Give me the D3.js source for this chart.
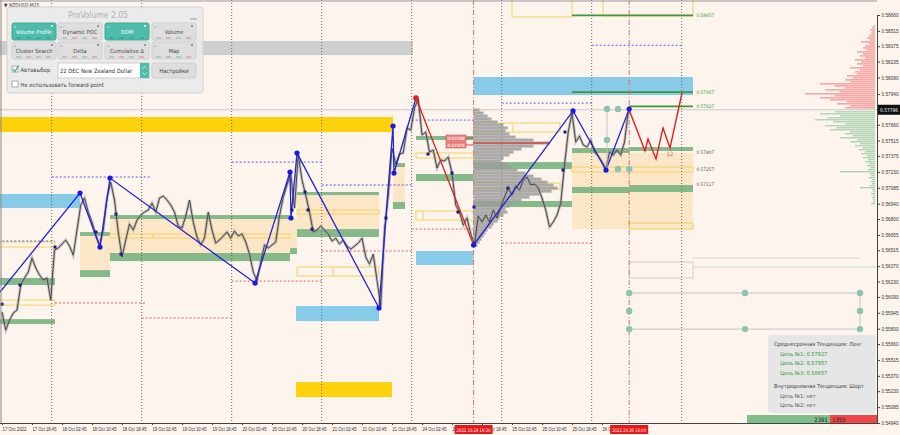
<!DOCTYPE html>
<html><head><meta charset="utf-8">
<script src="https://cdn.jsdelivr.net/npm/d3@7"></script>
<style>body{margin:0;background:#fdf4ee;}svg{display:block;font-family:"DejaVu Sans Condensed","DejaVu Sans",sans-serif;font-stretch:condensed;}</style>
</head><body><svg id="c" width="900" height="435"></svg>
<script>
// ---------------- DATA ----------------
const priceTicks=[0.58660,0.58515,0.58375,0.58235,0.58090,0.57940,0.57660,0.57515,0.57375,0.57230,0.57085,0.56940,0.56800,0.56655,0.56515,0.56370,0.56230,0.56090,0.55945,0.55800,0.55660,0.55515,0.55370,0.55230,0.55085,0.54940];
const currentPrice=0.57796;
const timeLabels=["17 Oct 2022","17 Oct 18:45","18 Oct 02:45","18 Oct 10:45","18 Oct 18:45","19 Oct 02:45","19 Oct 10:45","19 Oct 18:45","20 Oct 02:45","20 Oct 10:45","20 Oct 18:45","21 Oct 02:45","21 Oct 10:45","21 Oct 18:45","24 Oct 02:45","24 Oct 10:45","24 Oct 18:45","25 Oct 02:45","25 Oct 10:45","25 Oct 18:45","26 Oct 02:45"];
const timeTickHours=[0,8,16,24,32,40,48,56,64,72,80,88,96,104,112,120,128,136,144,152,160];
const daySeparators=[13.25,37.25,61.25,85.25,109.25,133.25,157.25,181.25];
const markerLines=[{h:125.75,label:"2022.10.24 16:30"},{h:167.25,label:"2022.10.26 10:00"}];
// hourly closes, hour 0 = 17 Oct 10:45
const closes=[0.55951,0.55787,0.55878,0.55942,0.55970,0.56198,0.56262,0.56316,0.56444,0.56353,
0.56289,0.56243,0.56262,0.56061,0.56517,0.56535,0.56572,0.56608,0.56553,0.56471,
0.56699,0.56927,0.56991,0.56863,0.56772,0.56654,0.56563,0.56699,0.56991,0.57137,
0.56973,0.56681,0.56453,0.56608,0.56754,0.56699,0.56790,0.56836,0.56863,0.56882,
0.56945,0.56863,0.56991,0.57009,0.56973,0.56927,0.56863,0.56736,0.56718,0.56827,
0.56973,0.56772,0.56636,0.56563,0.56626,0.56863,0.56699,0.56581,0.56608,0.56645,
0.56681,0.56626,0.56690,0.56645,0.56663,0.56590,0.56480,0.56316,0.56234,0.56407,
0.56563,0.56535,0.56563,0.56590,0.56827,0.57000,0.57110,0.57210,0.56900,0.57383,
0.57155,0.57018,0.56863,0.56681,0.56699,0.56736,0.56699,0.56663,0.56599,0.56626,
0.56572,0.56608,0.56553,0.56526,0.56553,0.56581,0.56626,0.56453,0.56389,0.56480,
0.56243,0.56006,0.56699,0.57018,0.57447,0.57301,0.57392,0.57402,0.57630,0.57611,
0.57812,0.57894,0.57566,0.57593,0.57411,0.57429,0.57265,0.57338,0.57328,0.57365,
0.57219,0.56927,0.56863,0.56745,0.56809,0.56663,0.56572,0.56827,0.56772,0.56836,
0.56772,0.56882,0.56809,0.56909,0.57000,0.57082,0.57018,0.57101,0.57064,0.57155,
0.57183,0.57110,0.57119,0.57082,0.56991,0.56882,0.56727,0.56772,0.56836,0.56945,
0.57292,0.57593,0.57766,0.57502,0.57557,0.57475,0.57456,0.57520,0.57411,0.57374,
0.57319,0.57256,0.57411,0.57383,0.57429,0.57383,0.57502,0.57775];
const zigzagBlue1=[[-0.53,0.56134],[20.8,0.57037],[26.13,0.56544],[28.8,0.57173],[67.47,0.56216],[76.8,0.57228],[77.07,0.56809],[78.67,0.57401],[100.53,0.55988],[104.27,0.57648],[104.53,0.57219],[110.4,0.57903]];
const zigzagRed=[[110.4,0.57903],[125.75,0.56563]];
const zigzagBlue2=[[125.75,0.56563],[152.27,0.57785],[161.07,0.57246],[167.25,0.57803]];
const forecast=[[167.25,0.57794],[171.47,0.57420],[172.27,0.57529],[174.4,0.57347],[176.27,0.57630],[178.13,0.57447],[181.33,0.57949]];
const pivotMarks=[[0,0.56024],[4.8,0.56198],[14.13,0.56544],[25.07,0.56681],[30.4,0.56845],[31.73,0.56480],[77.33,0.56882],[80.8,0.57046],[81.6,0.56882],[82.67,0.56708],[102.4,0.56809],[113.6,0.57392],[120,0.57219],[121.6,0.56863],[125.87,0.56909],[134.93,0.57082],[149.6,0.57246],[150.13,0.57593]];
// zones: [hourStart, hourEnd, priceHigh, priceLow]
const grayZones=[[-1,109.6,0.58423,0.58295]];
const goldZones=[[-1,104.25,0.57730,0.57593],[78.4,104,0.55313,0.55176]];
const blueZones=[[-1,20.8,0.57028,0.56900],[78.4,100.53,0.56006,0.55869],[110.4,125.75,0.56508,0.56380],[125.75,184.27,0.58095,0.57930]];
const beigeZones=[[20.8,28.8,0.56645,0.56334],[28.8,76.8,0.56800,0.56490],[76.8,78.67,0.56809,0.56535],[78.67,100.53,0.57018,0.56708],[104.27,107.47,0.57274,0.56955],[152,184.27,0.57402,0.56708]];
const greenZones=[[-1,14.13,0.56262,0.56198],[-1,14.13,0.55887,0.55842],[20.8,28.8,0.56681,0.56645],[20.8,28.8,0.56334,0.56271],[28.8,76.8,0.56836,0.56800],[28.8,76.8,0.56490,0.56416],[76.8,78.67,0.56535,0.56480],[78.67,100.53,0.57046,0.57018],[78.67,100.53,0.56708,0.56636],[104.27,107.47,0.57310,0.57274],[104.27,107.47,0.56955,0.56891],[110.4,125.75,0.57557,0.57520],[110.4,125.75,0.57210,0.57146],[125.75,152,0.57319,0.57256],[125.75,152,0.56964,0.56909],[152,167.25,0.57447,0.57402],[167.25,184.27,0.57456,0.57420],[152,167.25,0.57092,0.57037],[167.25,184.27,0.57110,0.57046]];
const yellowBoxes=[[-1,14.13,0.56590,0.56544],[-1,14.13,0.56061,0.56015],[28.8,76.8,0.56663,0.56626],[78.67,100.53,0.56882,0.56845],[78.67,100.53,0.56362,0.56280],[110.4,125.75,0.57402,0.57356],[110.4,125.75,0.56873,0.56790],[125.75,148.8,0.57675,0.57593],[125.75,148.8,0.57128,0.57073],[152,184.27,0.57274,0.57228],[167.25,184.27,0.56763,0.56708],[136,152,0.58842,0.58642],[160.27,184.27,0.58842,0.58651]];
const yellowDividers=[[40.27,0.56663,0.56626],[88.27,0.56882,0.56845],[88.27,0.56362,0.56280],[112.27,0.56873,0.56790],[136.27,0.57675,0.57593]];
const grayBoxes=[[167.25,184.27,0.56407,0.56262]];
const levelLines=[[152,184.27,0.58657],[152,184.27,0.57957],[167.25,184.27,0.57827]];
const levelLabels=[0.58657,0.57957,0.57827,0.57407,0.57257,0.57117];
const blueDotted=[[-1,14.13,0.56599],[13.25,39.47,0.57183],[61.25,85.25,0.57319],[85.25,109.25,0.57110],[109.25,125.75,0.57702],[133.25,157.25,0.57857],[157.25,181.25,0.58384]];
const redDotted=[[14.13,38.13,0.56034],[37.25,61.25,0.55897],[61.25,85.25,0.56234],[85.25,109.25,0.56508],[109.25,125.75,0.56708],[133.25,157.25,0.56581]];
const faintLines=[[184.27,228.8,0.56444],[184.27,234,0.56362]];
const targetCircles=[[161.33,0.57803],[164.27,0.57803],[161.33,0.57520],[164.27,0.57256],[167.25,0.57256],[167.25,0.56125],[198.13,0.56125],[228.8,0.56125],[167.25,0.55961],[228.8,0.55961],[167.25,0.55796],[198.13,0.55796],[228.8,0.55796]];
const circleLinks=[[161.33,0.57803,161.33,0.57256],[167.25,0.56125,228.8,0.56125],[167.25,0.55796,228.8,0.55796],[228.8,0.56125,228.8,0.55796]];
// volume profile from 24 Oct 16:30, top level and bin step
const vpTop=0.57794, vpStep=0.000274;
const vpVolumes=[60,100,140,180,240,300,340,320,360,420,600,760,600,480,400,360,300,280,340,380,440,520,600,680,740,800,840,780,660,560,480,400,360,320,340,300,260,240,200,180,140,120,100,80,60,40];
const pocPrice=0.57493, pocEnd=146.13;
const pocTags=[["0.57538",0.57538],["0.57475",0.57475]];
// DOM
const domStep=0.000182;
const domAsk=[300,250,380,280,450,550,400,700,350,500,300,400,550,250,300,220,280,180,200,150,250,120,180,140,200,100,150,120,180,80,120,100,60,140,50,80,60,40,30,50,30,20];
const domBid=[400,550,350,480,600,420,300,500,380,450,250,300,220,350,180,250,150,200,120,160,100,140,80,120,70,100,60,80,50,70,350,50,40,60,30,40,30,50,150,30,20,40,20,30,20,20,40];
const buySell=[2391,1355];
const infoLines=[["Среднесрочная Тенденция: Лонг","#444",0],["Цель №1: 0.57827","#2e9a3a",6],["Цель №2: 0.57957","#2e9a3a",6],["Цель №3: 0.58657","#2e9a3a",6],["Внутридневная Тенденция: Шорт","#444",0],["Цель №1: нет","#555",6],["Цель №2: нет","#555",6]];
const row1=["Volume Profile","Dynamic POC","DOM","Volume"], row1Active=[true,false,true,false];
const row2=["Cluster Search","Delta","Cumulative Δ","Map"];

// ---------------- DRAW ----------------
const svg=d3.select("#c");
const plotR=877, plotB=423;
const x=d3.scaleLinear().domain([0,234]).range([2,879.5]);
const y=d3.scaleLinear().domain([0.54940,0.58660]).range([423,15]);
svg.append("rect").attr("width",900).attr("height",435).attr("fill","#fdf4ee");
svg.append("defs").append("clipPath").attr("id","clip").append("rect").attr("width",plotR).attr("height",plotB);
const g=svg.append("g").attr("clip-path","url(#clip)");

function zones(data,fill,op){
  g.append("g").selectAll("rect").data(data).join("rect")
   .attr("x",d=>x(d[0])).attr("width",d=>x(d[1])-x(d[0]))
   .attr("y",d=>y(d[2])).attr("height",d=>y(d[3])-y(d[2]))
   .attr("fill",fill).attr("opacity",op||1);
}
function hlines(data,stroke,dash,w){
  g.append("g").selectAll("line").data(data).join("line")
   .attr("x1",d=>x(d[0])).attr("x2",d=>x(d[1])).attr("y1",d=>y(d[2])).attr("y2",d=>y(d[2]))
   .attr("stroke",stroke).attr("stroke-width",w||1).attr("stroke-dasharray",dash||null);
}
zones(grayZones,"#cfcfcf");
zones(beigeZones,"#fce6c8");
zones(goldZones,"#fdd10c");
zones(blueZones,"#87cbe9");
zones(greenZones,"#86b98a");
g.append("g").selectAll("rect").data(yellowBoxes).join("rect")
 .attr("x",d=>x(d[0])).attr("width",d=>x(d[1])-x(d[0]))
 .attr("y",d=>y(d[2])).attr("height",d=>y(d[3])-y(d[2]))
 .attr("fill","none").attr("stroke","#f2d35c").attr("stroke-width",1);
g.append("g").selectAll("line").data(yellowDividers).join("line")
 .attr("x1",d=>x(d[0])).attr("x2",d=>x(d[0])).attr("y1",d=>y(d[1])).attr("y2",d=>y(d[2]))
 .attr("stroke","#f2d35c");
g.append("g").selectAll("rect").data(grayBoxes).join("rect")
 .attr("x",d=>x(d[0])).attr("width",d=>x(d[1])-x(d[0]))
 .attr("y",d=>y(d[2])).attr("height",d=>y(d[3])-y(d[2]))
 .attr("fill","none").attr("stroke","#cfcfcf");
hlines(levelLines,"#3a9a3a",null,1.6);
hlines(blueDotted,"#5a5ae0","2,2");
hlines(redDotted,"#e06060","2,2");
hlines(faintLines,"#c8d8d8");
g.append("g").selectAll("line").data(daySeparators).join("line")
 .attr("x1",d=>x(d)).attr("x2",d=>x(d)).attr("y1",0).attr("y2",plotB)
 .attr("stroke","#666").attr("stroke-dasharray","1,2");
g.append("g").selectAll("line").data(markerLines).join("line")
 .attr("x1",d=>x(d.h)).attr("x2",d=>x(d.h)).attr("y1",0).attr("y2",plotB)
 .attr("stroke","#e07070").attr("stroke-dasharray","5,2,1,2");
g.append("line").attr("x1",0).attr("x2",plotR).attr("y1",y(currentPrice)).attr("y2",y(currentPrice)).attr("stroke","#c8c8c8");
// volume profile
const vpX=d3.scaleLinear().domain([0,1000]).range([0,100]);
g.append("g").selectAll("rect").data(vpVolumes).join("rect")
 .attr("x",x(125.75)).attr("y",(d,i)=>y(vpTop-i*vpStep)-1.5)
 .attr("width",d=>vpX(d)).attr("height",y(0)-y(vpStep))
 .attr("fill","#9c9c9c").attr("opacity",0.85);
g.append("line").attr("x1",x(125.75)).attr("x2",x(pocEnd)).attr("y1",y(pocPrice)).attr("y2",y(pocPrice)).attr("stroke","#d04848").attr("stroke-width",1.5);
// DOM
const domX=d3.scaleLinear().domain([0,1000]).range([0,100]);
g.append("g").selectAll("rect").data(domAsk).join("rect")
 .attr("x",d=>875-domX(d)).attr("width",d=>domX(d))
 .attr("y",(d,i)=>y(currentPrice+(i+1)*domStep)-0.6).attr("height",1.3)
 .attr("fill","#f37f7f").attr("opacity",0.8);
g.append("g").selectAll("rect").data(domBid).join("rect")
 .attr("x",d=>875-domX(d)).attr("width",d=>domX(d))
 .attr("y",(d,i)=>y(currentPrice-(i+1)*domStep)-0.6).attr("height",1.3)
 .attr("fill","#94cb9f").attr("opacity",0.8);
// price line
const pl=d3.line().x((d,i)=>x(i)).y(d=>y(d));
g.append("path").datum(closes).attr("d",pl).attr("fill","none").attr("stroke","#9a9a9a").attr("stroke-width",2.8).attr("opacity",0.6);
g.append("path").datum(closes).attr("d",pl).attr("fill","none").attr("stroke","#3e3e3e").attr("stroke-width",0.9);
// zigzag
const zl=d3.line().x(d=>x(d[0])).y(d=>y(d[1]));
g.append("path").datum(zigzagBlue1).attr("d",zl).attr("fill","none").attr("stroke","#2424d4").attr("stroke-width",1.3);
g.append("path").datum(zigzagBlue2).attr("d",zl).attr("fill","none").attr("stroke","#2424d4").attr("stroke-width",1.3);
g.append("path").datum(zigzagRed).attr("d",zl).attr("fill","none").attr("stroke","#e02020").attr("stroke-width",1.3);
g.append("path").datum(forecast).attr("d",zl).attr("fill","none").attr("stroke","#e02020").attr("stroke-width",1.4);
g.append("text").attr("x",x(forecast[5][0])).attr("y",y(forecast[5][1])+8).attr("text-anchor","middle").attr("font-size",6).attr("fill","#e06060").text("12");
g.append("g").selectAll("line").data(circleLinks).join("line")
 .attr("x1",d=>x(d[0])).attr("y1",d=>y(d[1])).attr("x2",d=>x(d[2])).attr("y2",d=>y(d[3]))
 .attr("stroke","#c4c4c4");
g.append("g").selectAll("circle").data(targetCircles).join("circle")
 .attr("cx",d=>x(d[0])).attr("cy",d=>y(d[1])).attr("r",3.2).attr("fill","#8cc4b4");
const pivots=zigzagBlue1.slice(1,-1).concat(zigzagBlue2);
g.append("g").selectAll("circle").data(pivots).join("circle")
 .attr("cx",d=>x(d[0])).attr("cy",d=>y(d[1])).attr("r",2.6).attr("fill","#1a1ae0");
g.append("circle").attr("cx",x(zigzagRed[0][0])).attr("cy",y(zigzagRed[0][1])).attr("r",2.8).attr("fill","#e02020");
g.append("g").selectAll("rect").data(pivotMarks).join("rect")
 .attr("x",d=>x(d[0])-1.5).attr("y",d=>y(d[1])-1.5).attr("width",3).attr("height",3).attr("fill","#1a1a80");
g.append("g").selectAll("text").data(levelLabels).join("text")
 .attr("x",x(185.2)).attr("y",d=>y(d)+2).attr("font-size",4.8).attr("fill",(d,i)=>i<3?"#2e9a3a":"#555").text(d=>d.toFixed(5));
const tg=g.append("g").selectAll("g").data(pocTags).join("g");
tg.append("line").attr("x1",466).attr("x2",x(125.75)).attr("y1",d=>y(d[1])).attr("y2",d=>y(d[1])).attr("stroke","#d04848");
tg.append("rect").attr("x",446).attr("y",d=>y(d[1])-3).attr("width",20).attr("height",6).attr("fill","#ee8a8a").attr("stroke","#d04848").attr("stroke-width",0.6);
tg.append("text").attr("x",456).attr("y",d=>y(d[1])+1.7).attr("text-anchor","middle").attr("font-size",4.2).attr("textLength",17).attr("lengthAdjust","spacingAndGlyphs").attr("fill","#fff").text(d=>d[0]);
// frame
svg.append("line").attr("x1",1).attr("x2",1).attr("y1",0).attr("y2",plotB).attr("stroke","#888");
svg.append("line").attr("x1",0).attr("x2",plotR).attr("y1",1).attr("y2",1).attr("stroke","#999");
// axes
const ya=svg.append("g").attr("transform",`translate(${plotR},0)`).call(d3.axisRight(y).tickValues(priceTicks).tickSize(3).tickFormat(d3.format(".5f")));
ya.selectAll("text").attr("font-size",5).attr("fill","#333").attr("x",4.5).attr("textLength",17).attr("lengthAdjust","spacingAndGlyphs");
ya.select(".domain").attr("stroke","#444");
ya.selectAll(".tick line").attr("stroke","#444");
const xa=svg.append("g").attr("transform",`translate(0,${plotB})`).call(d3.axisBottom(x).tickValues(timeTickHours).tickSize(2).tickFormat((d,i)=>timeLabels[i]));
xa.select(".domain").attr("stroke","#444").attr("d",`M0,0.5H${plotR}`);
xa.selectAll("text").attr("font-size",4.8).attr("fill","#333").attr("text-anchor","start").attr("y",5).attr("textLength",24).attr("lengthAdjust","spacingAndGlyphs");
xa.selectAll(".tick line").attr("stroke","#444");
svg.append("rect").attr("x",878).attr("y",y(currentPrice)-5).attr("width",22).attr("height",10).attr("fill","#111");
svg.append("text").attr("x",880).attr("y",y(currentPrice)+2).attr("font-size",5).attr("textLength",18).attr("lengthAdjust","spacingAndGlyphs").attr("fill","#fff").text(currentPrice.toFixed(5));
const mt=svg.append("g").selectAll("g").data(markerLines).join("g");
mt.append("rect").attr("x",d=>x(d.h)-19).attr("y",425).attr("width",38).attr("height",9).attr("fill","#e81818");
mt.append("text").attr("x",d=>x(d.h)-17).attr("y",431.5).attr("font-size",4.8).attr("textLength",34).attr("lengthAdjust","spacingAndGlyphs").attr("fill","#fff").text(d=>d.label);
// info box
svg.append("rect").attr("x",768).attr("y",335).attr("width",108).attr("height",78).attr("rx",4).attr("fill","#e6e6e6");
svg.append("g").selectAll("text").data(infoLines).join("text")
 .attr("x",d=>774+d[2]).attr("y",(d,i)=>[346,356,365,375,388,398,407][i]).attr("font-size",5.6).attr("fill",d=>d[1]).text(d=>d[0]);
// buy/sell bar
const bs=d3.scaleLinear().domain([0,buySell[0]+buySell[1]]).range([747,877]);
svg.append("rect").attr("x",bs(0)).attr("y",415).attr("width",bs(buySell[0])-bs(0)).attr("height",8).attr("fill","#7fbf8c");
svg.append("rect").attr("x",bs(buySell[0])).attr("y",415).attr("width",bs(buySell[0]+buySell[1])-bs(buySell[0])).attr("height",8).attr("fill","#f04848");
svg.append("text").attr("x",bs(buySell[0])-2).attr("y",421.5).attr("text-anchor","end").attr("font-size",6).attr("fill","#222").text(buySell[0]);
svg.append("text").attr("x",bs(buySell[0])+2).attr("y",421.5).attr("font-size",6).attr("fill","#222").text(buySell[1]);
svg.append("text").attr("x",4).attr("y",7).attr("font-size",5).attr("fill","#333").text("▼ NZDUSD,M15");
// panel
const p=svg.append("g");
p.append("rect").attr("x",7).attr("y",7).attr("width",196).attr("height",86).attr("rx",3).attr("fill","#ebebeb").attr("opacity",0.95).attr("stroke","#d0d0d0");
p.append("text").attr("x",98).attr("y",18).attr("text-anchor","middle").attr("font-size",8.5).attr("fill","#b0b0b0").text("ProVolume 2.05");
p.append("line").attr("x1",190).attr("x2",197).attr("y1",19).attr("y2",19).attr("stroke","#999");
const bx=[12,58,105,152];
function buttons(labels,yy,active){
  labels.forEach((t,i)=>{
    const on=active&&active[i];
    p.append("rect").attr("x",bx[i]).attr("y",yy).attr("width",44).attr("height",17).attr("rx",2).attr("fill",on?"#4dbda9":"#dedede").attr("stroke",on?"#44a896":"#cfcfcf");
    p.append("text").attr("x",bx[i]+22).attr("y",yy+10.5).attr("text-anchor","middle").attr("font-size",5.6).attr("fill",on?"#fff":"#444").text(t);
    p.append("text").attr("x",bx[i]+2).attr("y",yy+4.5).attr("font-size",3).attr("fill",on?"#e8fffa":"#888").text("≡");
    p.append("circle").attr("cx",bx[i]+40).attr("cy",yy+3).attr("r",1).attr("fill",on?"#e8fffa":"#777");
    [0,1,2,3].forEach(k=>p.append("line").attr("x1",bx[i]+4+k*10).attr("x2",bx[i]+9+k*10).attr("y1",yy+15).attr("y2",yy+15).attr("stroke",on?"#2f8f7f":(k%2?"#d07070":"#70b080")).attr("stroke-width",0.8));
  });
}
buttons(row1,23,row1Active);
buttons(row2,42,null);
p.append("rect").attr("x",12).attr("y",66).attr("width",6).attr("height",6).attr("fill","#fff").attr("stroke","#aaa");
p.append("path").attr("d","M13,69 L15,71.5 L18.5,65.5").attr("fill","none").attr("stroke","#3aaa98").attr("stroke-width",1.2);
p.append("text").attr("x",20.5).attr("y",71.5).attr("font-size",5.8).attr("fill","#444").text("Автовыбор");
p.append("rect").attr("x",58).attr("y",63).attr("width",91).attr("height",15).attr("fill","#fff").attr("stroke","#ccc");
p.append("rect").attr("x",140).attr("y",63).attr("width",9).attr("height",15).attr("fill","#4dbda9");
p.append("path").attr("d","M142.5,68.5 L144.5,66.5 L146.5,68.5 M142.5,72.5 L144.5,74.5 L146.5,72.5").attr("fill","none").attr("stroke","#fff").attr("stroke-width",0.7);
p.append("text").attr("x",60).attr("y",72.5).attr("font-size",5.8).attr("fill","#333").text("22 DEC New Zealand Dollar");
p.append("rect").attr("x",152).attr("y",63).attr("width",44).attr("height",15).attr("rx",2).attr("fill","#dedede").attr("stroke","#cfcfcf");
p.append("text").attr("x",174).attr("y",72.5).attr("text-anchor","middle").attr("font-size",5.8).attr("fill","#444").text("Настройки");
p.append("rect").attr("x",12).attr("y",81).attr("width",6).attr("height",6).attr("fill","#fff").attr("stroke","#aaa");
p.append("text").attr("x",20.5).attr("y",86.5).attr("font-size",5.8).attr("fill","#444").text("Не использовать forward-point");
</script></body></html>
